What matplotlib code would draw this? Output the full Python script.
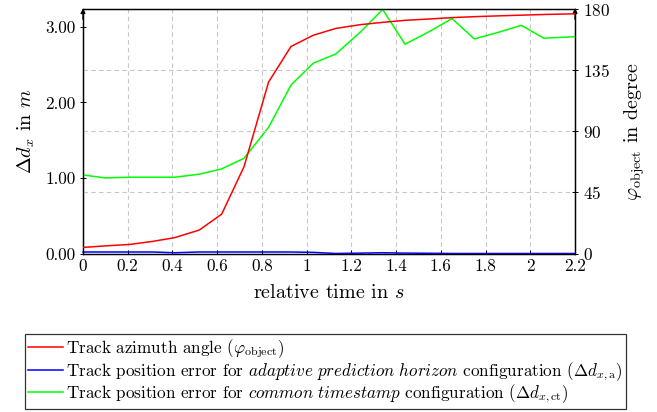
import matplotlib
matplotlib.use("Agg")
import matplotlib.pyplot as plt
from matplotlib.lines import Line2D
from matplotlib.ticker import FormatStrFormatter

plt.rcParams['font.family'] = ['cmr10', 'DejaVu Serif']
plt.rcParams['mathtext.fontset'] = 'cm'
plt.rcParams['axes.formatter.use_mathtext'] = True

# samples (relative time in s)
t = [0.0, 0.10, 0.21, 0.31, 0.41, 0.52, 0.62, 0.72, 0.83, 0.93, 1.03,
     1.13, 1.24, 1.34, 1.44, 1.55, 1.65, 1.75, 1.86, 1.96, 2.06, 2.2]
# track azimuth angle in degree
phi_obj = [4.5, 5.6, 6.7, 8.9, 11.7, 17.3, 29.0, 64.0, 126.5, 152.7, 161.0,
           166.0, 168.8, 170.5, 172.0, 173.0, 174.0, 174.7, 175.3, 175.8, 176.3, 176.8]
# position error, adaptive prediction horizon (m)
dx_a = [0.02, 0.02, 0.02, 0.02, 0.01, 0.02, 0.02, 0.02, 0.02, 0.02, 0.015,
        0.0, 0.005, 0.01, 0.005, 0.003, 0.0, 0.0, 0.0, 0.0, 0.0, 0.0]
# position error, common timestamp (m)
dx_ct = [1.04, 1.00, 1.01, 1.01, 1.01, 1.05, 1.12, 1.26, 1.67, 2.23, 2.52,
         2.64, 2.93, 3.23, 2.77, 2.94, 3.11, 2.84, 2.93, 3.02, 2.85, 2.87]

xticks = [0, 0.2, 0.4, 0.6, 0.8, 1, 1.2, 1.4, 1.6, 1.8, 2, 2.2]
yticks_left = [0, 1, 2, 3]
yticks_right = [0, 45, 90, 135, 180]

fig = plt.figure(figsize=(6.57, 4.12), dpi=100)
ax = fig.add_axes([0.1263, 0.3847, 0.7489, 0.5923])
ax2 = ax.twinx()

ax.plot(t, dx_a, color='#0000ff', lw=1.1, clip_on=False, zorder=3)
ax.plot(t, dx_ct, color='#00ff00', lw=1.1, zorder=3)
ax2.plot(t, phi_obj, color='#ff0000', lw=1.1, zorder=3)

ax.set_xlim(0, 2.2)
ax.set_ylim(0, 3.23)
ax2.set_ylim(0, 180)

ax.set_xticks(xticks)
ax.set_xticklabels(['0', '0.2', '0.4', '0.6', '0.8', '1', '1.2', '1.4',
                    '1.6', '1.8', '2', '2.2'])
ax.set_yticks(yticks_left)
ax.yaxis.set_major_formatter(FormatStrFormatter('%.2f'))
ax2.set_yticks(yticks_right)

ax.grid(False)
ax.xaxis.grid(True, color='#c8c8c8', ls=(0, (4, 3)), lw=0.8)
ax2.yaxis.grid(True, color='#c8c8c8', ls=(0, (4, 3)), lw=0.8)
ax.set_axisbelow(True)

for a in (ax, ax2):
    a.tick_params(labelsize=12.3, width=0.7)
    for s in a.spines.values():
        s.set_linewidth(0.9)
ax.tick_params(axis='x', direction='in', length=3, pad=4)
ax.tick_params(axis='y', direction='inout', length=5, pad=3)
ax2.tick_params(axis='y', direction='inout', length=5, pad=3)

ax.set_xlabel('relative time in $s$', fontsize=14.5, labelpad=7)
ax.set_ylabel(r'$\Delta d_x$ in $m$', fontsize=14.5, labelpad=6)
ax2.set_ylabel(r'$\varphi_{\mathrm{object}}$ in degree', fontsize=14.5, labelpad=9)

# arrow heads on top of both vertical axes
for xa in (0, 1):
    ax.annotate('', xy=(xa, 1.005), xytext=(xa, 0.96), xycoords='axes fraction',
                arrowprops=dict(arrowstyle='-|>', color='black', lw=0.9,
                                mutation_scale=7, shrinkA=0, shrinkB=0))

handles = [Line2D([], [], color='#ff0000', lw=1.1),
           Line2D([], [], color='#0000ff', lw=1.1),
           Line2D([], [], color='#00ff00', lw=1.1)]
labels = [r'Track azimuth angle ($\varphi_{\mathrm{object}}$)',
          r'Track position error for $\mathit{adaptive\ prediction\ horizon}$ configuration ($\Delta d_{x,\mathrm{a}}$)',
          r'Track position error for $\mathit{common\ timestamp}$ configuration ($\Delta d_{x,\mathrm{ct}}$)']
leg = fig.legend(handles, labels, loc='upper left', bbox_to_anchor=(0.038, 0.189),
                 fontsize=12.3, frameon=True, fancybox=False, edgecolor='black',
                 handlelength=2.0, handletextpad=0.2, borderpad=0.2,
                 labelspacing=0.0, borderaxespad=0)
leg.get_frame().set_linewidth(0.9)

fig.savefig('out.png', dpi=100)
